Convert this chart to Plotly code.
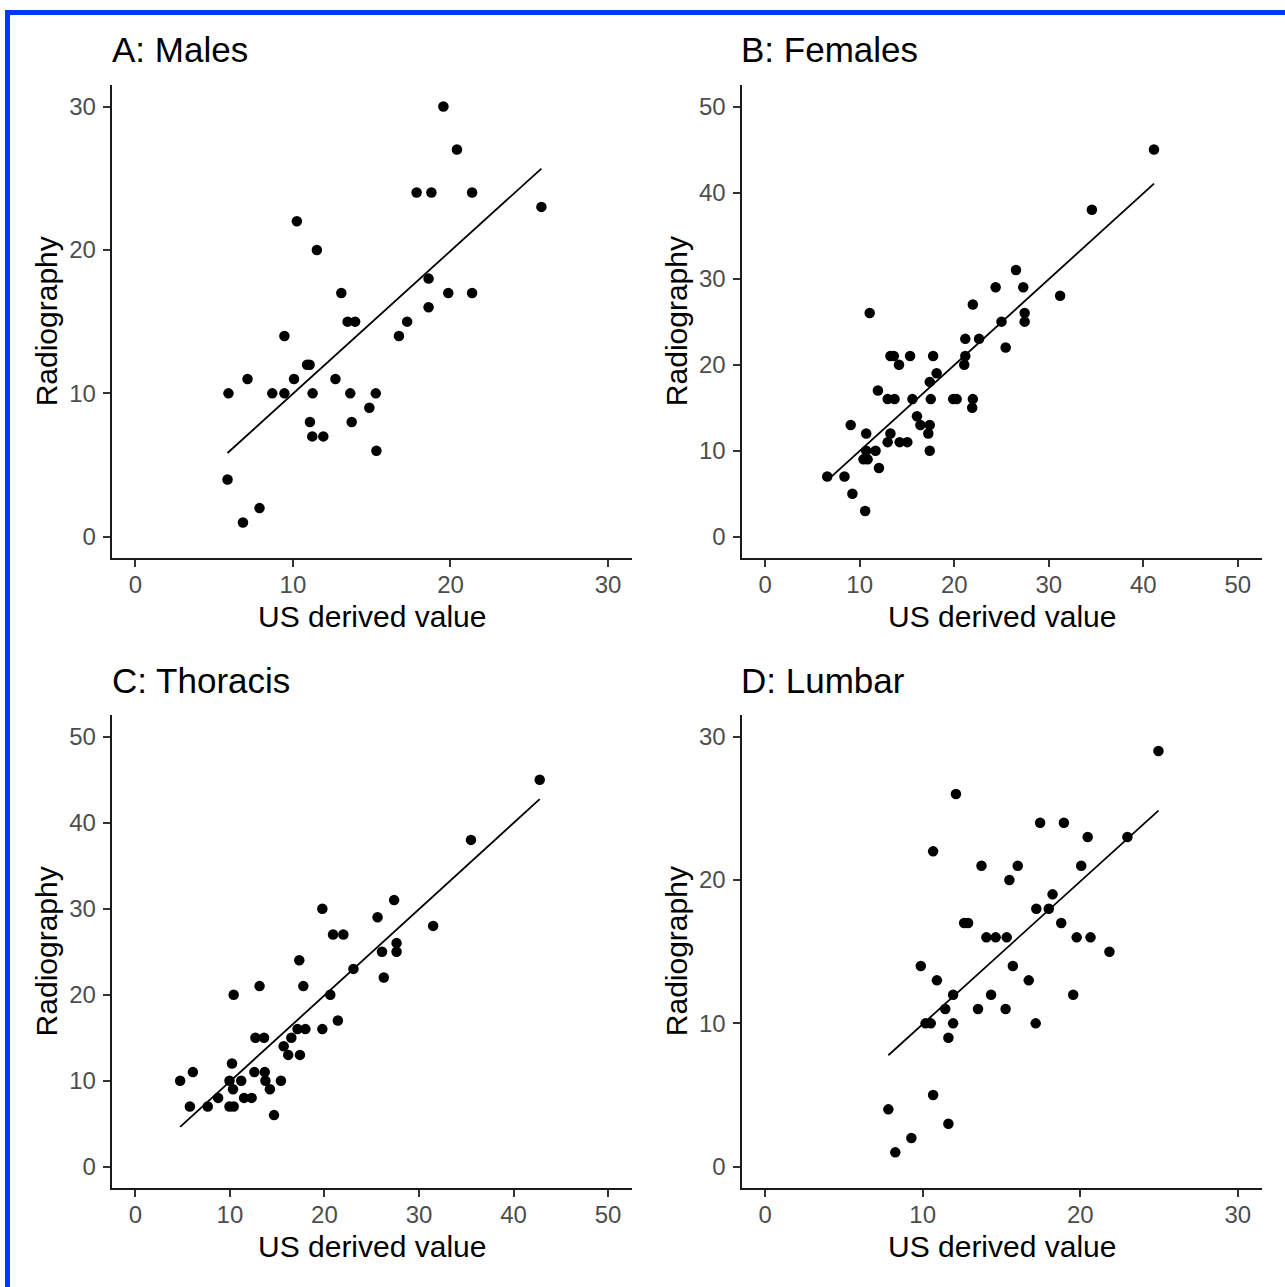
import numpy as np
import plotly.graph_objects as go

# ---------------- data ----------------
males_us = [5.91, 7.12, 5.85, 6.83, 7.88, 8.69, 9.46, 9.46, 10.07, 10.25, 10.9, 11.06,
            11.25, 11.08, 11.23, 11.93, 11.52, 12.7, 13.07, 13.47, 13.95, 13.64, 13.73,
            14.85, 15.26, 15.3, 16.73, 17.25, 17.85, 18.79, 18.61, 18.61, 19.55, 19.86,
            20.41, 21.37, 21.37, 25.77]
males_rad = [10, 11, 4, 1, 2, 10, 10, 14, 11, 22, 12, 12,
             10, 8, 7, 7, 20, 11, 17, 15, 15, 10, 8,
             9, 10, 6, 14, 15, 24, 24, 18, 16, 30, 17,
             27, 24, 17, 23]

females_us = [6.57, 8.39, 9.23, 9.05, 10.58, 10.69, 10.69, 10.4, 10.84, 11.06, 11.68, 12.04,
              11.93, 12.96, 13.69, 13.25, 12.96, 13.25, 13.61, 14.16, 14.23, 15.04, 15.33,
              15.58, 16.06, 16.42, 17.41, 17.26, 17.41, 17.41, 17.52, 17.77, 18.14, 19.89,
              20.26, 21.06, 21.17, 21.17, 21.97, 21.97, 21.9, 22.63, 24.38, 25.0, 25.44,
              26.53, 27.3, 27.45, 27.45, 31.2, 34.56, 41.13]
females_rad = [7, 7, 5, 13, 3, 12, 10, 9, 9, 26, 10, 8,
               17, 16, 16, 12, 11, 21, 21, 20, 11, 11, 21,
               16, 14, 13, 13, 12, 10, 18, 16, 21, 19, 16,
               16, 20, 21, 23, 27, 16, 15, 23, 29, 25, 22,
               31, 29, 26, 25, 28, 38, 45]

thoracis_us = [4.74, 5.77, 6.09, 7.66, 8.76, 9.96, 10.4, 9.96, 10.22, 10.33, 10.4, 11.2,
               11.5, 12.3, 12.59, 12.7, 13.61, 13.14, 13.69, 13.76, 14.23, 14.67, 15.4,
               15.69, 16.17, 16.5, 17.15, 17.41, 17.34, 17.77, 17.99, 19.78, 19.78, 20.62,
               20.91, 21.42, 22.0, 23.07, 25.62, 26.09, 26.28, 27.37, 27.63, 27.63, 31.5,
               35.5, 42.77]
thoracis_rad = [10, 7, 11, 7, 8, 7, 7, 10, 12, 9, 20, 10,
                8, 8, 11, 15, 15, 21, 11, 10, 9, 6, 10,
                14, 13, 15, 16, 13, 24, 21, 16, 16, 30, 20,
                27, 17, 27, 23, 29, 25, 22, 31, 26, 25, 28,
                38, 45]

lumbar_us = [7.82, 8.26, 9.28, 9.88, 10.18, 10.51, 10.66, 10.66, 10.9, 11.43, 11.63, 11.63,
             11.93, 11.93, 12.11, 12.63, 12.88, 13.51, 13.73, 14.04, 14.63, 14.34, 15.26,
             15.33, 15.5, 15.72, 16.03, 16.73, 17.17, 17.21, 17.45, 18.0, 18.24, 18.79,
             18.96, 19.55, 19.77, 20.06, 20.47, 20.65, 21.85, 22.99, 24.96]
lumbar_rad = [4, 1, 2, 14, 10, 10, 22, 5, 13, 11, 9, 3,
              12, 10, 26, 17, 17, 11, 21, 16, 16, 12, 11,
              16, 20, 14, 21, 13, 10, 18, 24, 18, 19, 17,
              24, 12, 16, 21, 23, 16, 15, 23, 29]

titles = ["A: Males", "B: Females", "C: Thoracis", "D: Lumbar"]
ticks_30 = [0, 10, 20, 30]
ticks_50 = [0, 10, 20, 30, 40, 50]
x_label = "US derived value"
y_label = "Radiography"

# ---------------- layout geometry (pixels) ----------------
W, H = 1285, 1287
def px(v):
    return v / W
def py(v):
    return 1 - v / H

FONT = "Liberation Sans, Arial, sans-serif"
cols = [(111.7, 631.7), (741.5, 1261.5)]
rows = [(85.0, 558.3), (715.2, 1188.2)]

panels = [
    dict(title=titles[0], x=males_us, y=males_rad, rng=[-1.5, 31.5], ticks=ticks_30, c=0, r=0),
    dict(title=titles[1], x=females_us, y=females_rad, rng=[-2.5, 52.5], ticks=ticks_50, c=1, r=0),
    dict(title=titles[2], x=thoracis_us, y=thoracis_rad, rng=[-2.5, 52.5], ticks=ticks_50, c=0, r=1),
    dict(title=titles[3], x=lumbar_us, y=lumbar_rad, rng=[-1.5, 31.5], ticks=ticks_30, c=1, r=1),
]

fig = go.Figure()
annotations = []
axis_common = dict(
    showgrid=False, zeroline=False, showline=True, linecolor="#1a1a1a", linewidth=2,
    ticks="outside", ticklen=7, tickwidth=2, tickcolor="#333333",
    tickfont=dict(family=FONT, size=24, color="#4D4D4D"), mirror=False,
)

for i, p in enumerate(panels, start=1):
    suffix = "" if i == 1 else str(i)
    xa, ya = "x" + suffix, "y" + suffix
    x0, x1 = cols[p["c"]]
    y0, y1 = rows[p["r"]]

    fig.add_trace(go.Scatter(
        x=p["x"], y=p["y"], mode="markers", xaxis=xa, yaxis=ya,
        marker=dict(color="black", size=10.5, line=dict(width=0)), showlegend=False,
        hoverinfo="skip"))
    xs = np.asarray(p["x"], dtype=float)
    ys = np.asarray(p["y"], dtype=float)
    slope, inter = np.polyfit(xs, ys, 1)
    fx = np.array([xs.min(), xs.max()])
    fig.add_trace(go.Scatter(
        x=fx, y=slope * fx + inter, mode="lines", xaxis=xa, yaxis=ya,
        line=dict(color="black", width=1.8), showlegend=False, hoverinfo="skip"))

    fig.layout["xaxis" + suffix] = dict(
        domain=[px(x0), px(x1)], anchor=ya, range=p["rng"], tickvals=p["ticks"],
        ticklabelstandoff=-3, **axis_common)
    fig.layout["yaxis" + suffix] = dict(
        domain=[py(y1), py(y0)], anchor=xa, range=p["rng"], tickvals=p["ticks"],
        ticklabelstandoff=2, **axis_common)

    # panel title
    annotations.append(dict(
        text=p["title"], xref="paper", yref="paper", x=px(x0 - 2), y=py(y0 - 35),
        xanchor="left", yanchor="middle", showarrow=False,
        font=dict(family=FONT, size=35, color="black")))
    # x axis title
    annotations.append(dict(
        text=x_label, xref="paper", yref="paper", x=px((x0 + x1) / 2), y=py(y1 + 58),
        xanchor="center", yanchor="middle", showarrow=False,
        font=dict(family=FONT, size=30, color="black")))
    # y axis title
    annotations.append(dict(
        text=y_label, xref="paper", yref="paper", x=px(x0 - 65), y=py((y0 + y1) / 2),
        xanchor="center", yanchor="middle", showarrow=False, textangle=-90,
        font=dict(family=FONT, size=30, color="black")))

# blue frame around the image (top and left edges)
shapes = [
    dict(type="rect", xref="paper", yref="paper", x0=px(5), x1=px(W), y0=py(15), y1=py(10),
         fillcolor="#0037FF", line=dict(width=0), layer="above"),
    dict(type="rect", xref="paper", yref="paper", x0=px(5), x1=px(10), y0=py(H), y1=py(10),
         fillcolor="#0037FF", line=dict(width=0), layer="above"),
]

fig.update_layout(
    width=W, height=H, margin=dict(l=0, r=0, t=0, b=0),
    paper_bgcolor="white", plot_bgcolor="white",
    annotations=annotations, shapes=shapes, showlegend=False,
)

fig.write_html("out.html", config={"displayModeBar": False},
               post_script="document.body.style.margin='0';document.body.style.overflow='hidden';")
